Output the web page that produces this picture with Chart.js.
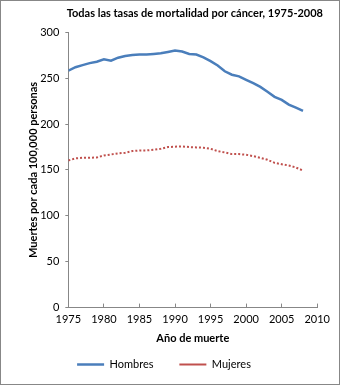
<!DOCTYPE html>
<html>
<head>
<meta charset="utf-8">
<script src="https://cdn.jsdelivr.net/npm/chart.js@4/dist/chart.umd.min.js"></script>
<style>
  html, body { margin: 0; padding: 0; background: #fff; }
  #wrap { width: 338px; height: 383px; border: 1px solid #878787; position: relative; }
</style>
</head>
<body>
<div id="wrap"><canvas id="mortChart" width="338" height="383"></canvas></div>
<script>
// Tasas de mortalidad por cáncer (por 100,000)
const years = [1975, 1976, 1977, 1978, 1979, 1980, 1981, 1982, 1983, 1984, 1985, 1986,
    1987, 1988, 1989, 1990, 1991, 1992, 1993, 1994, 1995, 1996, 1997, 1998, 1999,
    2000, 2001, 2002, 2003, 2004, 2005, 2006, 2007, 2008];
const hombres = [258.1, 261.9, 264.1, 266.3, 267.8, 270.4, 268.9, 272.2, 274.1, 275.2,
    275.6, 275.6, 276.3, 277.0, 278.5, 280.0, 278.9, 276.3, 275.6, 272.6, 268.5, 263.7,
    257.4, 253.7, 251.9, 248.1, 244.4, 240.4, 235.2, 229.6, 226.3, 221.1, 217.8, 214.4];
const mujeres = [160.3, 162.5, 163.2, 163.2, 163.5, 165.8, 166.8, 168.0, 168.7, 170.5,
    171.2, 171.2, 172.0, 173.0, 174.9, 175.3, 175.6, 174.9, 174.5, 174.2, 173.0, 170.5,
    169.0, 167.2, 167.2, 166.5, 165.0, 163.2, 161.0, 157.7, 156.2, 154.8, 152.6, 149.3];
const xTicks = [1975, 1980, 1985, 1990, 1995, 2000, 2005, 2010];
const yTicks = [0, 50, 100, 150, 200, 250, 300];

const axisGray = '#878787';
const fontFam = 'Lato, "Open Sans", sans-serif';

const ctx = document.getElementById('mortChart').getContext('2d');
const mortChart = new Chart(ctx, {
    type: 'line',
    data: {
        datasets: [{
            label: 'Hombres',
            data: years.map((y, i) => ({ x: y, y: hombres[i] })),
            borderColor: '#4A7EBB',
            borderWidth: 2.5,
            pointRadius: 0,
            pointStyle: 'line',
            tension: 0
        }, {
            label: 'Mujeres',
            data: years.map((y, i) => ({ x: y, y: mujeres[i] })),
            borderColor: '#C0504D',
            borderWidth: 2,
            borderDash: [2, 2],
            pointRadius: 0,
            pointStyle: 'line',
            tension: 0
        }]
    },
    options: {
        responsive: false,
        animation: false,
        layout: { padding: { left: 26, right: 16, top: 0, bottom: 4 } },
        plugins: {
            title: {
                display: true,
                text: 'Todas las tasas de mortalidad por cáncer, 1975-2008',
                align: 'end',
                color: '#000',
                font: { family: fontFam, size: 11, weight: 'bold' },
                padding: { top: 6, bottom: 12 }
            },
            legend: {
                position: 'bottom',
                maxHeight: 33,
                labels: {
                    color: '#000',
                    font: { family: fontFam, size: 11 },
                    usePointStyle: true,
                    boxWidth: 27,
                    boxHeight: 8,
                    pointStyleWidth: 27,
                    padding: 12,
                    generateLabels: chart => {
                        const items = Chart.defaults.plugins.legend.labels.generateLabels(chart);
                        // wider gaps after entries, like the original legend
                        items.forEach((it, i) => {
                            it.text += (i < items.length - 1) ? '\u2003\u2002' : '\u2003\u2003\u2002';
                        });
                        return items;
                    }
                }
            },
            tooltip: { enabled: false }
        },
        scales: {
            x: {
                type: 'linear',
                min: xTicks[0],
                max: xTicks[xTicks.length - 1],
                afterBuildTicks: axis => { axis.ticks = xTicks.map(v => ({ value: v })); },
                ticks: {
                    color: '#000',
                    font: { family: fontFam, size: 11 },
                    padding: 9,
                    maxRotation: 0,
                    callback: v => String(v)
                },
                grid: { drawOnChartArea: false, tickLength: -4, color: axisGray },
                border: { color: axisGray },
                title: {
                    display: true,
                    text: 'Año de muerte',
                    color: '#000',
                    font: { family: fontFam, size: 11, weight: 'bold' },
                    padding: { top: -3, bottom: 2 }
                }
            },
            y: {
                min: 0,
                max: 300,
                afterBuildTicks: axis => { axis.ticks = yTicks.map(v => ({ value: v })); },
                ticks: {
                    color: '#000',
                    font: { family: fontFam, size: 11 },
                    padding: 6
                },
                grid: { drawOnChartArea: false, tickLength: 3, color: axisGray },
                border: { color: axisGray },
                title: {
                    display: true,
                    text: 'Muertes por cada 100,000 personas',
                    color: '#000',
                    font: { family: fontFam, size: 11, weight: 'bold' },
                    padding: { top: 0, bottom: -6 }
                }
            }
        }
    }
});
</script>
</body>
</html>
